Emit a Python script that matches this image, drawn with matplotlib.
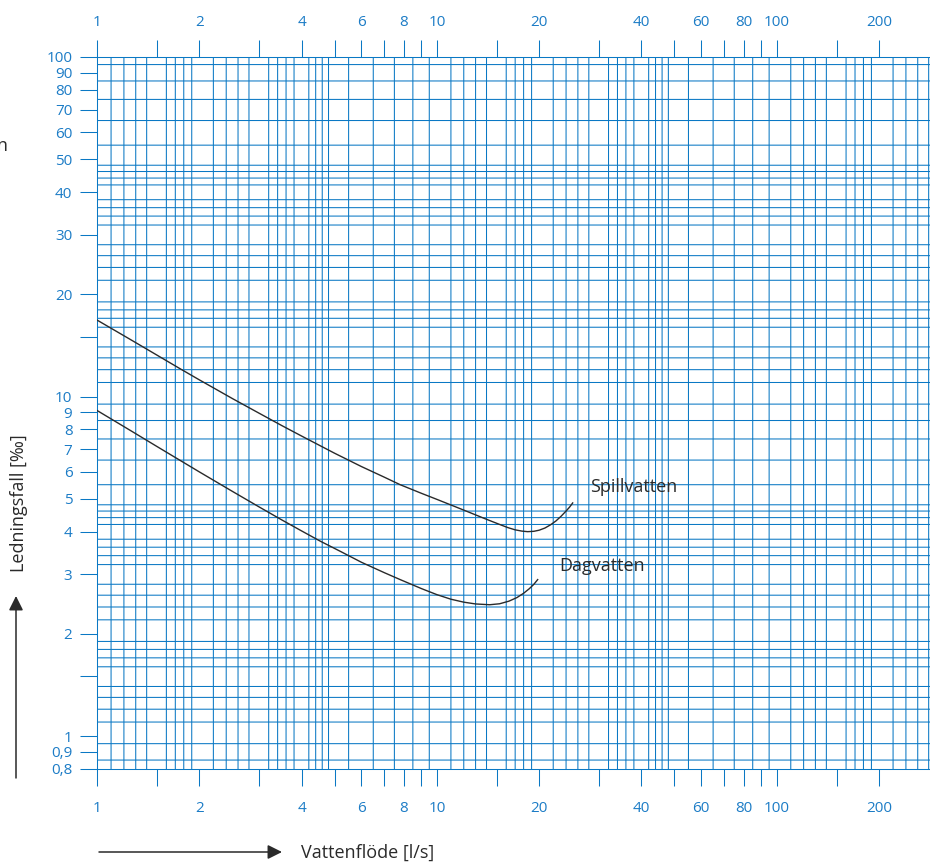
import numpy as np
import matplotlib; matplotlib.use('Agg')
import matplotlib.pyplot as plt
from matplotlib.ticker import NullFormatter

plt.rcParams['font.family'] = ['Open Sans', 'DejaVu Sans']

# curves (flow l/s, slope per mille)
spill_x = [1.0, 1.25, 1.5, 1.75, 2.0, 2.5, 3.0, 3.5, 4.0, 5.0, 6.0, 7.0, 7.8, 9.0, 10.0, 12.0, 14.0, 15.4,
           16.2, 17.0, 17.8, 18.5, 19.3, 20.0, 20.8, 21.6, 22.4, 23.2, 24.0, 24.6, 25.1]
spill_y = [16.8, 14.75, 13.25, 12.1, 11.2, 9.87, 8.93, 8.21, 7.65, 6.81, 6.22, 5.79, 5.5, 5.19, 4.98, 4.63, 4.35, 4.19,
           4.11, 4.05, 4.015, 4.0, 4.01, 4.04, 4.1, 4.19, 4.3, 4.44, 4.6, 4.73, 4.86]
dag_x = [1.0, 1.25, 1.5, 1.75, 2.0, 2.5, 3.0, 3.5, 4.0, 4.54, 5.2, 6.0, 7.0, 7.8, 9.0, 10.0, 11.0, 12.0, 13.0,
         14.3, 15.3, 16.3, 17.2, 18.0, 18.7, 19.3, 19.8]
dag_y = [9.1, 7.96, 7.13, 6.5, 6.0, 5.26, 4.73, 4.33, 4.02, 3.75, 3.5, 3.25, 3.03, 2.89, 2.72, 2.61, 2.53, 2.48, 2.45,
         2.437, 2.453, 2.497, 2.558, 2.634, 2.716, 2.8, 2.89]

x_ticks = [1, 1.5, 2, 3, 4, 5, 6, 7, 8, 9, 10, 15, 20, 30, 40, 50, 60, 70, 80, 90, 100, 150, 200]
x_labels = ['1', '', '2', '', '4', '', '6', '', '8', '', '10', '', '20', '', '40', '', '60', '', '80', '', '100', '', '200']
y_ticks = [0.8, 0.9, 1, 1.5, 2, 3, 4, 5, 6, 7, 8, 9, 10, 15, 20, 30, 40, 50, 60, 70, 80, 90, 100]
y_labels = ['0,8', '0,9', '1', '', '2', '3', '4', '5', '6', '7', '8', '9', '10', '', '20', '30', '40', '50', '60', '70', '80', '90', '100']

BLUE = '#0a78c4'
LBL = '#1c7cc6'
INK = '#2a2a2a'


def paper_lines(lo, hi):
    # log paper rulings: 1-2 by 0.1, 2-5 by 0.2, 5-10 by 0.5 in every decade
    out = []
    for d in [0.1, 1, 10, 100, 1000]:
        for a, b, s in [(1, 2, 0.1), (2, 5, 0.2), (5, 10, 0.5)]:
            out += list(np.round(np.arange(a, b - 1e-9, s) * d, 6))
    return [v for v in out if lo - 1e-9 <= v <= hi + 1e-9]


fig = plt.figure(figsize=(9.3, 8.65), dpi=100)
ax = fig.add_axes([97/930, 1 - 769/865, 1 - 97/930, (769 - 57)/865])
ax.set_xscale('log'); ax.set_yscale('log')
xmax = 10**((930 - 97)/339.85)
ax.set_xlim(1, xmax); ax.set_ylim(0.8, 100)

ax.set_xticks(paper_lines(1, xmax), minor=True)
ax.set_yticks(paper_lines(0.8, 100), minor=True)
ax.xaxis.set_minor_formatter(NullFormatter()); ax.yaxis.set_minor_formatter(NullFormatter())
ax.set_xticks(x_ticks, x_labels)
ax.set_yticks(y_ticks, y_labels)
# unsnapped rulings so they blur over pixel edges like the printed sheet
ax.grid(which='minor', color=BLUE, lw=0.75, snap=False)
ax.grid(which='major', visible=False)
ax.tick_params(which='minor', length=0)
ax.tick_params(axis='x', which='major', bottom=True, top=False, labelbottom=True, labeltop=False,
               length=12.2, width=0.75, color=BLUE, labelcolor=LBL, labelsize=11, pad=10.5)
ax.tick_params(axis='y', which='major', left=True, length=12.2, width=0.75, color=BLUE,
               labelcolor=LBL, labelsize=11, pad=5.5)
for k, s in ax.spines.items():
    s.set_visible(k != 'right'); s.set_color(BLUE); s.set_linewidth(0.75)

top = ax.secondary_xaxis('top')
top.set_xticks(x_ticks, x_labels)
top.xaxis.set_minor_locator(plt.NullLocator())
top.tick_params(axis='x', which='major', length=12.2, width=0.75, color=BLUE, labelcolor=LBL, labelsize=11, pad=7.5)
top.spines['top'].set_visible(False)

ax.plot(spill_x, spill_y, color=INK, lw=1.0, zorder=5)
ax.plot(dag_x, dag_y, color=INK, lw=1.0, zorder=5)
ax.text(28.3, 5.4, 'Spillvatten', fontsize=13, color=INK, va='center', ha='left')
ax.text(22.9, 3.17, 'Dagvatten', fontsize=13, color=INK, va='center', ha='left')

# axis titles with arrows, outside the grid
fig.text(18.5/930, 1 - 503/865, 'Ledningsfall [‰]', rotation=90, fontsize=13, color=INK, ha='center', va='center')
fig.text(301/930, 1 - 853/865, 'Vattenflöde [l/s]', fontsize=13, color=INK, ha='left', va='center')
arrow = dict(arrowstyle='-|>,head_length=0.6,head_width=0.3', color=INK, lw=1.1,
             mutation_scale=14.4, shrinkA=0, shrinkB=0)
ax.annotate('', xy=(16/930, 1 - 596/865), xytext=(16/930, 1 - 778/865), xycoords='figure fraction', arrowprops=arrow)
ax.annotate('', xy=(282/930, 1 - 852/865), xytext=(99/930, 1 - 852/865), xycoords='figure fraction', arrowprops=arrow)
# fragment of a word cut by the left edge in the source
fig.text(7/930, 1 - 146/865, 'n', fontsize=13, color=INK, ha='right', va='center')

plt.savefig('out.png', dpi=100)
